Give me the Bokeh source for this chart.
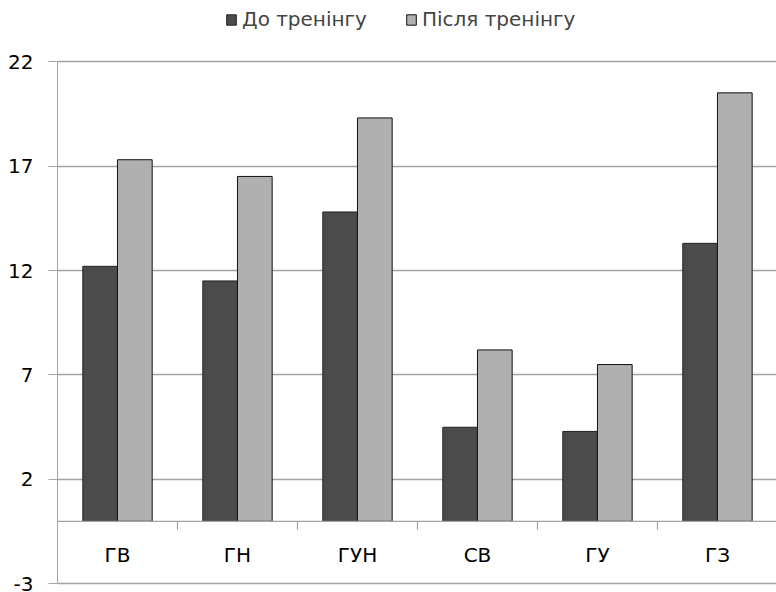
import numpy as np
from bokeh.plotting import figure
from bokeh.models import (Range1d, FixedTicker, Legend, LegendItem, Span,
                          ColumnDataSource)
from bokeh.core.properties import value
from bokeh.embed import file_html
from bokeh.resources import INLINE

categories = ["ГВ", "ГН", "ГУН", "СВ", "ГУ", "ГЗ"]
before = [12.2, 11.5, 14.8, 4.5, 4.3, 13.3]
after = [17.3, 16.5, 19.3, 8.2, 7.5, 20.5]
y_ticks = [-3, 2, 7, 12, 17, 22]
y_tick_labels = {-3: "-3", 2: "2", 7: "7", 12: "12", 17: "17", 22: "22"}
series_names = ["До тренінгу", "Після тренінгу"]

FONT = "DejaVu Sans"
GRID = "#a3a3a3"
DARK = "#4b4b4b"
LIGHT = "#b0b0b0"

idx = np.arange(len(categories))
bw = 0.289
src = ColumnDataSource(dict(
    cat=categories,
    xc=idx + 0.5,
    xb=idx + 0.5 - bw / 2,
    xa=idx + 0.5 + bw / 2,
    before=before,
    after=after,
))

p = figure(width=776, height=592, output_backend="svg", toolbar_location=None,
           x_range=Range1d(0, 5.992), y_range=Range1d(-3.407, 24.919),
           x_axis_location=None, y_axis_location="left",
           min_border_left=57, min_border_right=0, min_border_top=0,
           min_border_bottom=0)
p.outline_line_color = None
p.background_fill_color = "white"
p.border_fill_color = "white"

# y axis
yax = p.yaxis[0]
yax.ticker = FixedTicker(ticks=y_ticks)
yax.major_label_overrides = y_tick_labels
yax.bounds = (-3, 22)
yax.axis_line_color = GRID
yax.axis_line_width = 1
yax.major_tick_line_color = GRID
yax.major_tick_line_width = 1.2
yax.major_tick_out = 9
yax.major_tick_in = 0
yax.minor_tick_line_color = None
yax.major_label_standoff = 15
yax.major_label_text_font = FONT
yax.major_label_text_font_size = "20px"
yax.major_label_text_color = "black"

p.xgrid.visible = False
p.ygrid.ticker = FixedTicker(ticks=y_ticks)
p.ygrid.grid_line_color = GRID
p.ygrid.grid_line_width = 1.3
p.ygrid.bounds = (-3, 22)

# zero (category) axis line
p.add_layout(Span(location=0, dimension="width", line_color=GRID, line_width=1.3))

# category boundary ticks
bounds_x = np.arange(1, len(categories) + 1)
p.segment(x0=bounds_x, x1=bounds_x, y0=0, y1=-0.4, line_color=GRID, line_width=1.2)

rb = p.vbar(x="xb", top="before", bottom=0, width=bw, source=src,
            fill_color=DARK, line_color="#222222", line_width=1)
ra = p.vbar(x="xa", top="after", bottom=0, width=bw, source=src,
            fill_color=LIGHT, line_color="#111111", line_width=1)

# category labels
p.text(x="xc", y=-1.63, text="cat", source=src, text_font=value(FONT),
       text_font_size="20px", text_align="center", text_baseline="middle",
       text_color="black")

legend = Legend(items=[LegendItem(label=series_names[0], renderers=[rb]),
                       LegendItem(label=series_names[1], renderers=[ra])],
                orientation="horizontal", location=(168, 561),
                padding=0, margin=0, spacing=38, label_standoff=5,
                glyph_width=12, glyph_height=13, label_height=20,
                label_text_font=FONT, label_text_font_size="20px",
                border_line_color=None, background_fill_alpha=0)
p.add_layout(legend)

open("out.html", "w").write(file_html(p, INLINE))
